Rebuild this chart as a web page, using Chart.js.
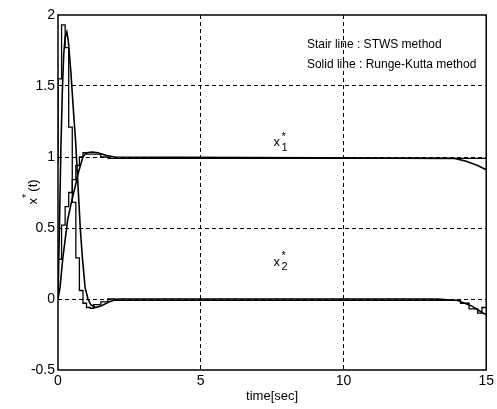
<!DOCTYPE html>
<html>
  <head>
    <title>STWS vs Runge-Kutta</title>
    <meta charset="utf-8" />
    <style>
      html, body { margin: 0; padding: 0; background: #fff; }
    </style>
  </head>
  <body>
    <canvas id="state-chart" width="497" height="409"></canvas>

    <script src="https://cdn.jsdelivr.net/npm/chart.js"></script>
    <script>
      // Runge-Kutta solution (solid lines)
      var rkTime1 = [0, 0.07, 0.17, 0.34, 0.49, 0.6, 0.7, 0.8, 0.87, 1.0, 1.2, 1.4, 1.7, 2.0, 13.9, 14.3, 14.7, 15];
      var rkX1 = [0, 0.08, 0.29, 0.56, 0.7, 0.79, 0.88, 0.95, 1.0, 1.03, 1.035, 1.03, 1.01, 1.0, 0.99, 0.97, 0.94, 0.91];

      var rkTime2 = [0, 0.05, 0.1, 0.15, 0.2, 0.25, 0.31, 0.36, 0.45, 0.55, 0.62, 0.7, 0.78, 0.85, 0.95, 1.05, 1.15, 1.3, 1.5, 1.8, 2.1, 13.3, 14, 14.5, 14.9, 15];
      var rkX2 = [0, 0.5, 1.05, 1.45, 1.72, 1.84, 1.88, 1.82, 1.6, 1.3, 1.1, 0.8, 0.5, 0.3, 0.08, 0, -0.04, -0.06, -0.05, -0.02, 0, 0, -0.01, -0.05, -0.1, -0.11];

      // STWS solution (stair lines), value holds from each time until the next
      var stairTime1 = [0, 0.125, 0.25, 0.375, 0.5, 0.625, 0.75, 0.875, 1.0, 1.5, 1.75, 14.4, 15];
      var stairX1 = [0.07, 0.28, 0.52, 0.65, 0.75, 0.84, 0.94, 1.0, 1.03, 1.02, 1.0, 0.99, 0.99];

      var stairTime2 = [0, 0.125, 0.25, 0.375, 0.5, 0.625, 0.75, 0.875, 1.0, 1.125, 1.25, 1.5, 1.75, 2.0, 14.1, 14.4, 14.7, 14.85, 15];
      var stairX2 = [0.95, 1.55, 1.93, 1.77, 1.21, 0.68, 0.29, 0.06, -0.03, -0.06, -0.065, -0.04, -0.02, 0, -0.01, -0.03, -0.07, -0.1, -0.06];

      var xTicks = [0, 5, 10, 15];
      var yMin = -0.5;
      var yMax = 2;

      var FONT = "'Liberation Sans', Arial, sans-serif";

      function toPoints(ts, vs) {
        var pts = [];
        for (var i = 0; i < ts.length; i++) {
          pts.push({ x: ts[i], y: vs[i] });
        }
        return pts;
      }

      function lineSet(ts, vs, stepped, width) {
        return {
          data: toPoints(ts, vs),
          borderColor: "#000",
          borderWidth: width,
          pointRadius: 0,
          fill: false,
          tension: 0,
          stepped: stepped ? "after" : false,
        };
      }

      // frame, notes and the axis title with its superscript
      var overlay = {
        id: "overlay",
        afterDatasetsDraw: function (chart) {
          var ctx = chart.ctx;
          var a = chart.chartArea;
          var xs = chart.scales.x;
          var ys = chart.scales.y;
          ctx.save();
          ctx.strokeStyle = "#000";
          ctx.lineWidth = 1.5;
          ctx.strokeRect(a.left, a.top, a.right - a.left, a.bottom - a.top);

          ctx.fillStyle = "#000";
          ctx.textBaseline = "middle";
          ctx.font = "12px " + FONT;
          ctx.fillText("Stair line : STWS method", xs.getPixelForValue(8.72), ys.getPixelForValue(1.79));
          ctx.fillText("Solid line : Runge-Kutta method", xs.getPixelForValue(8.72), ys.getPixelForValue(1.65));

          function stateLabel(t, v, sub) {
            var px = xs.getPixelForValue(t);
            var py = ys.getPixelForValue(v);
            ctx.font = "13px " + FONT;
            ctx.fillText("x", px, py);
            ctx.font = "11px " + FONT;
            ctx.fillText("*", px + 8, py - 6);
            ctx.fillText(sub, px + 8, py + 5);
          }
          stateLabel(7.55, 1.1, "1");
          stateLabel(7.55, 0.26, "2");

          ctx.translate(33, (a.top + a.bottom) / 2);
          ctx.rotate(-Math.PI / 2);
          ctx.textAlign = "left";
          ctx.font = "13px " + FONT;
          var w = ctx.measureText("x").width + ctx.measureText("*").width + ctx.measureText("(t)").width;
          var x0 = -w / 2;
          ctx.fillText("x", x0, 0);
          x0 += ctx.measureText("x").width;
          ctx.font = "11px " + FONT;
          ctx.fillText("*", x0, -6);
          x0 += ctx.measureText("*").width + 2;
          ctx.font = "13px " + FONT;
          ctx.fillText("(t)", x0, 0);
          ctx.restore();
        },
      };

      function gridColor(ctx, edges) {
        var v = ctx.tick ? ctx.tick.value : null;
        return edges.indexOf(v) >= 0 ? "rgba(0,0,0,0)" : "#000";
      }

      new Chart(document.getElementById("state-chart"), {
        type: "line",
        data: {
          datasets: [
            lineSet(rkTime1, rkX1, false, 1.6),
            lineSet(rkTime2, rkX2, false, 1.6),
            lineSet(stairTime1, stairX1, true, 1.3),
            lineSet(stairTime2, stairX2, true, 1.3),
          ],
        },
        options: {
          responsive: false,
          animation: false,
          layout: { padding: { top: 15, right: 9, left: 0, bottom: 0 } },
          plugins: { legend: { display: false }, tooltip: { enabled: false } },
          scales: {
            x: {
              type: "linear",
              min: xTicks[0],
              max: xTicks[xTicks.length - 1],
              afterBuildTicks: function (scale) {
                scale.ticks = xTicks.map(function (v) { return { value: v }; });
              },
              afterFit: function (scale) { scale.height = 39; },
              grid: {
                drawTicks: false,
                lineWidth: 1,
                color: function (ctx) { return gridColor(ctx, [0, 15]); },
              },
              border: { display: false, dash: [4, 3] },
              ticks: { color: "#000", font: { family: FONT, size: 14 }, padding: 3, maxRotation: 0 },
              title: {
                display: true,
                text: "time[sec]",
                color: "#000",
                font: { family: FONT, size: 13 },
                padding: { top: 0, bottom: 5 },
              },
            },
            y: {
              min: yMin,
              max: yMax,
              afterFit: function (scale) { scale.width = 58; },
              grid: {
                drawTicks: false,
                lineWidth: 1,
                color: function (ctx) { return gridColor(ctx, [-0.5, 2]); },
              },
              border: { display: false, dash: [4, 3] },
              ticks: {
                stepSize: 0.5,
                color: "#000",
                font: { family: FONT, size: 14 },
                padding: 3,
                callback: function (v) { return String(v); },
              },
            },
          },
        },
        plugins: [overlay],
      });
    </script>
  </body>
</html>
